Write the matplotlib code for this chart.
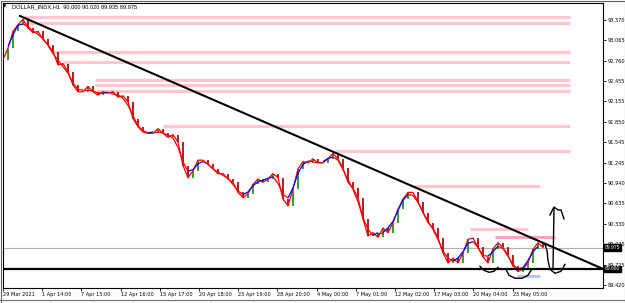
import numpy as np
import matplotlib
matplotlib.use("Agg")
import matplotlib.pyplot as plt
from matplotlib.collections import LineCollection
from matplotlib.patches import Rectangle

# closes sampled along the chart (DOLLAR_INDX, H1)
close = [92.78, 92.95, 93.20, 93.30, 93.38, 93.25, 93.18, 93.20, 93.08, 93.00,
         92.90, 92.70, 92.72, 92.60, 92.40, 92.30, 92.30, 92.38, 92.30, 92.25,
         92.30, 92.28, 92.30, 92.22, 92.24, 92.15, 91.90, 91.78, 91.70, 91.68,
         91.68, 91.75, 91.68, 91.62, 91.66, 91.55, 91.20, 91.02, 91.12, 91.28,
         91.28, 91.22, 91.15, 91.08, 91.08, 91.00, 90.95, 90.80, 90.72, 90.78,
         90.92, 91.00, 90.95, 91.00, 91.08, 91.02, 90.70, 90.60, 90.85, 91.15,
         91.26, 91.24, 91.30, 91.24, 91.24, 91.30, 91.38, 91.30, 91.16, 90.95,
         90.86, 90.72, 90.40, 90.15, 90.20, 90.13, 90.27, 90.20, 90.35, 90.55,
         90.70, 90.80, 90.80, 90.66, 90.50, 90.35, 90.27, 90.12, 89.90, 89.75,
         89.82, 89.75, 89.90, 90.10, 90.12, 89.98, 89.84, 89.75, 89.96, 90.05,
         89.98, 89.86, 89.70, 89.62, 89.66, 89.75, 89.95, 90.05, 89.98]

date_labels = ["29 Mar 2021", "1 Apr 14:00", "7 Apr 15:00", "12 Apr 16:00",
               "15 Apr 17:00", "20 Apr 18:00", "23 Apr 19:00", "28 Apr 20:00",
               "4 May 00:00", "7 May 01:00", "12 May 02:00", "17 May 03:00",
               "20 May 04:00", "25 May 05:00"]
price_ticks = [93.370, 93.065, 92.760, 92.455, 92.155, 91.850, 91.545,
               91.245, 90.940, 90.635, 90.330, 90.025, 89.725, 89.420]

# resistance zones: price, start bar, end bar
zone_price = [93.42, 93.33, 92.90, 92.75, 92.47, 92.40, 92.315, 91.79, 91.42, 90.89, 90.26]
zone_start = [4.2, 4.2, 9.8, 12.0, 18.4, 18.4, 18.8, 32.0, 66.4, 81.4, 93.4]
zone_end = [113.4, 113.4, 113.4, 113.4, 113.4, 113.4, 113.4, 113.4, 113.4, 107.4, 105.0]

trend_x = [3.4, 120.0]
trend_y = [93.43, 89.660]

last_price = 89.975
support = 89.660

# hand drawn marks
arc1_x = [95.4, 96.2, 97.2, 98.2, 99.0]
arc1_y = [89.698, 89.639, 89.609, 89.624, 89.683]
arc2_x = [100.6, 101.2, 102.4, 103.8, 105.0, 105.6]
arc2_y = [89.653, 89.565, 89.520, 89.520, 89.565, 89.638]
arc3_x = [108.4, 108.8, 109.0, 109.4, 110.4, 111.6, 112.4]
arc3_y = [90.022, 89.934, 89.786, 89.653, 89.594, 89.624, 89.727]
arrow_x = [110.0, 110.2]
arrow_y = [89.653, 90.568]
head_x = [109.4, 110.2, 111.0, 111.6, 112.2]
head_y = [90.464, 90.582, 90.538, 90.538, 90.405]

W, H = 625, 303
fig = plt.figure(figsize=(W / 100, H / 100), dpi=100)
ax = fig.add_axes([3 / W, 1 - 288 / H, 600 / W, 285 / H])
plt.rcParams['font.family'] = ['Liberation Sans', 'DejaVu Sans']
FS = 3.6

x = np.arange(len(close))
c = np.array(close)
o = np.r_[c[0], c[:-1]]

# zones
for p, s, e in zip(zone_price, zone_start, zone_end):
    ax.plot([s, e], [p, p], color="#ffc6d0", lw=2.3, solid_capstyle="butt", zorder=1)
ax.plot([98.4, 110.4], [90.13, 90.13], color="#ff9fc2", lw=2.3, solid_capstyle="butt", zorder=1)
ax.plot([102.8, 107.4], [89.555, 89.555], color="#b8c8f0", lw=2.3, solid_capstyle="butt", zorder=1)

ax.axhline(last_price, color="#b0b0b0", lw=0.8, zorder=1)
ax.axhline(support, color="black", lw=1.6, zorder=4)

# candles
up = c >= o
ax.vlines(x[up], o[up], c[up], color="#1f9a1f", lw=1.3, zorder=2)
ax.vlines(x[~up], c[~up], o[~up], color="#a01010", lw=1.3, zorder=2)

# price line and coloured average
ax.plot(x, c, color="red", lw=0.9, zorder=3)
ma = np.convolve(c, np.ones(3) / 3, mode="valid")
mx = x[1:-1]
pts = np.column_stack([mx, ma]).reshape(-1, 1, 2)
segs = np.concatenate([pts[:-1], pts[1:]], axis=1)
cols = ["blue" if b > a else "red" for a, b in zip(ma[:-1], ma[1:])]
ax.add_collection(LineCollection(segs, colors=cols, lw=0.9, zorder=3))

ax.plot(trend_x, trend_y, color="black", lw=1.5, zorder=5)

for xs, ys in [(arc1_x, arc1_y), (arc2_x, arc2_y), (arc3_x, arc3_y),
               (arrow_x, arrow_y), (head_x, head_y)]:
    ax.plot(xs, ys, color="black", lw=1.0, zorder=5)

ax.set_xlim(0, 120)
ax.set_ylim(89.375, 93.623)

ax.set_xticks(np.arange(len(date_labels)) * 7.84)
ax.set_xticklabels(date_labels, fontsize=FS, ha="left")
ax.tick_params(axis="x", length=2, width=0.6, pad=1)
ax.yaxis.tick_right()
ax.set_yticks(price_ticks)
ax.set_yticklabels(["%.3f" % v for v in price_ticks], fontsize=FS)
ax.tick_params(axis="y", length=2, width=0.6, pad=1.2)
for s in ax.spines.values():
    s.set_linewidth(0.8)

for v in [last_price, support]:
    ax.text(1.003, v, "%.3f" % v, transform=ax.get_yaxis_transform(), fontsize=FS,
            color="white", va="center", ha="left", zorder=10,
            bbox=dict(boxstyle="square,pad=0.15", fc="black", ec="black"))

fig.text(3 / W, 1 - 7 / H, "\u25bc", fontsize=3.2, family="DejaVu Sans", va="center")
fig.text(12 / W, 1 - 7 / H, "DOLLAR_INDX,H1  90.000 90.020 89.935 89.975",
         fontsize=4.1, va="center")

fig.add_artist(Rectangle((0.5 / W, 0.5 / H), 1 - 1 / W, 1 - 1 / H, transform=fig.transFigure,
                         fill=False, ec="#606060", lw=0.8))
fig.add_artist(plt.Line2D([0, 1], [3 / H, 3 / H], transform=fig.transFigure, color="#707070", lw=0.8))

fig.savefig("out.png", dpi=100)
